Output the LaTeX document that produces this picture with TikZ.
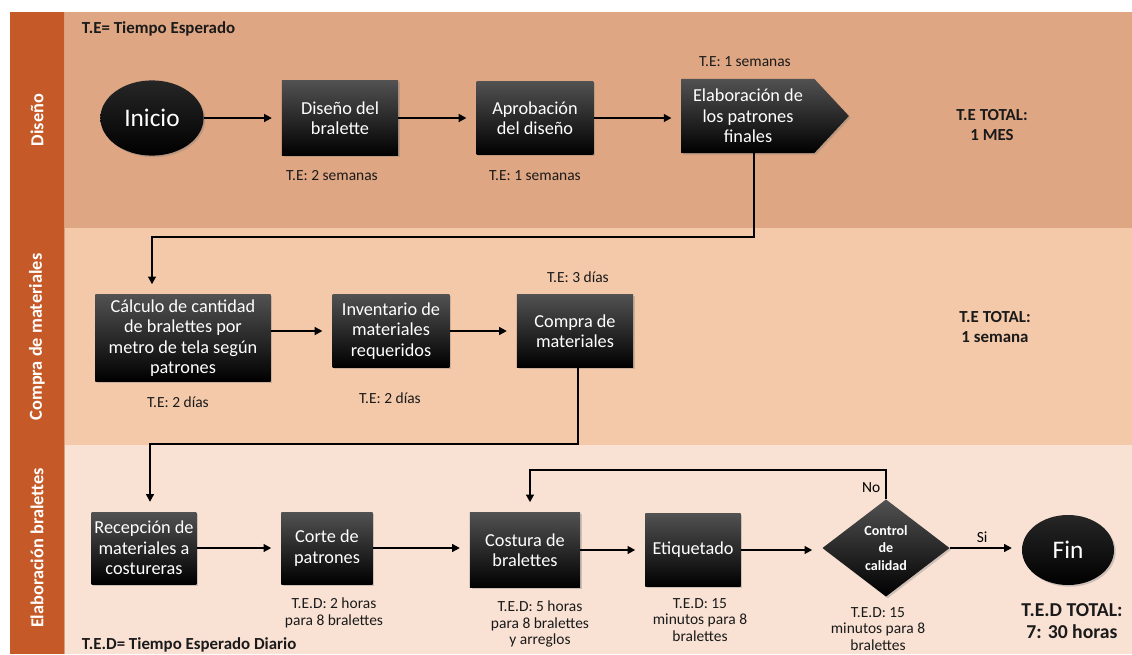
\documentclass[tikz,border=0pt]{standalone}
\usepackage{fontspec}
\setmainfont{Carlito}
\usetikzlibrary{
  shapes.geometric,
  shapes.symbols,
  arrows.meta,
  positioning,
  shadows
}
\definecolor{laneone}{HTML}{DEA683}
\definecolor{lanetwo}{HTML}{F3C9AA}
\definecolor{lanethree}{HTML}{F9E2D4}
\definecolor{stripcolor}{HTML}{C55A28}
\definecolor{darktext}{HTML}{1A1A1A}

\begin{document}
\begin{tikzpicture}[
    x=0.025cm, y=-0.025cm,
    every node/.style={font=\fontsize{11}{12}\selectfont},
    procbox/.style={rectangle, text=white, align=center, inner sep=2pt,
                    top color=black!68, middle color=black, bottom color=black,
                    font=\fontsize{13}{14.5}\selectfont,
                    drop shadow={shadow xshift=1.2pt, shadow yshift=-1.2pt, opacity=0.35}},
    terminal/.style={procbox, ellipse, inner sep=0pt, top color=black!85,
                     font=\fontsize{18}{20}\selectfont},
    decision/.style={procbox, diamond, inner sep=0pt, shape aspect=1.3,
                     font=\fontsize{10}{12.5}\selectfont\bfseries},
    note/.style={align=center, inner sep=1pt, text=darktext},
    total/.style={align=center, text=darktext, font=\fontsize{12}{14}\selectfont\bfseries},
    heading/.style={anchor=west, text=darktext, font=\fontsize{12}{14}\selectfont\bfseries},
    lanelabel/.style={rotate=90, text=white, font=\fontsize{13}{15}\selectfont\bfseries},
    flow/.style={line width=1.4pt, shorten >=7pt, -{Triangle[length=5.5pt, width=5.5pt]}},
]
\useasboundingbox (0,0) rectangle (1132,654);

% Lanes
\fill[laneone]   (10,12)  rectangle (1132,228);
\fill[lanetwo]   (10,228) rectangle (1132,445);
\fill[lanethree] (10,445) rectangle (1132,654);
\fill[stripcolor] (10,12) rectangle (64,654);
\draw[stripcolor!60!white, line width=0.5pt] (64,12) -- (64,654);

\node[lanelabel] (ldiseno) at (37,120) {Diseño};
\node[lanelabel] (lcompra) at (37,337) {Compra de materiales};
\node[lanelabel] (lelab)   at (37,548) {Elaboración bralettes};

\node[heading] (te)  at (77,29)  {T.E= Tiempo Esperado};
\node[heading] (ted) at (77,645) {T.E.D= Tiempo Esperado Diario};

% Diseño
\node[terminal, minimum width=2.58cm, minimum height=1.88cm] (inicio) at (152,118) {Inicio};
\node[procbox, minimum width=2.9cm, minimum height=1.88cm] (diseno) at (340,118) {Diseño del\\bralette};
\node[procbox, minimum width=2.92cm, minimum height=1.83cm] (aprobacion) at (535,118) {Aprobación\\del diseño};
\node[procbox, signal, signal to=east, signal pointer angle=94,
      minimum width=4.18cm, minimum height=1.85cm] (patrones) at (748,116) {Elaboración de\\los patrones\\finales};

\node[note] (tdiseno) at (332,176) {T.E: 2 semanas};
\node[note] (taprob)  at (535,176) {T.E: 1 semanas};
\node[note] (tpatron) at (745,62)  {T.E: 1 semanas};
\node[total] (totdiseno) at (992,125) {T.E TOTAL:\\1 MES};

\draw[flow] (inicio) -- (diseno);
\draw[flow] (diseno) -- (aprobacion);
\draw[flow] (aprobacion) -- (patrones.west |- aprobacion);

% Compra de materiales
\node[procbox, minimum width=4.38cm, minimum height=2.18cm] (calculo) at (183,338) {Cálculo de cantidad\\de bralettes por\\metro de tela según\\patrones};
\node[procbox, minimum width=2.92cm, minimum height=1.83cm] (inventario) at (391,331) {Inventario de\\materiales\\requeridos};
\node[procbox, minimum width=2.9cm, minimum height=1.83cm] (compra) at (575,331) {Compra de\\materiales};

\node[note] (tcalculo) at (178,402) {T.E: 2 días};
\node[note] (tinvent)  at (390,398) {T.E: 2 días};
\node[note] (tcompra)  at (578,277) {T.E: 3 días};
\node[total] (totcompra) at (995,327) {T.E TOTAL:\\1 semana};

\coordinate (k1) at (754,237);
\coordinate (k2) at (152,237);
\draw[flow] (patrones.south -| k1) -- (k1) -- (k2) -- (k2 |- calculo.north);

\draw[flow] (calculo.east |- inventario) -- (inventario);
\draw[flow] (inventario) -- (compra);

% Elaboración bralettes
\node[procbox, minimum width=2.55cm, minimum height=1.8cm] (recepcion) at (144,548) {Recepción de\\materiales a\\costureras};
\node[procbox, minimum width=2.28cm, minimum height=1.8cm] (corte) at (327,548) {Corte de\\patrones};
\node[procbox, minimum width=2.75cm, minimum height=1.88cm] (costura) at (525,550) {Costura de\\bralettes};
\node[procbox, minimum width=2.38cm, minimum height=1.83cm] (etiquetado) at (693,550) {Etiquetado};
\node[decision, minimum width=3.18cm, minimum height=2.43cm] (control) at (886,548) {Control\\de\\calidad};
\node[terminal, minimum width=2.3cm, minimum height=1.75cm] (fin) at (1068,550) {Fin};

\node[note] (tcorte)   at (334,613) {T.E.D: 2 horas\\para 8 bralettes};
\node[note] (tcostura) at (540,624) {T.E.D: 5 horas\\para 8 bralettes\\y arreglos};
\node[note] (tetiq)    at (700,620) {T.E.D: 15\\minutos para 8\\bralettes};
\node[note] (tcontrol) at (878,629) {T.E.D: 15\\minutos para 8\\bralettes};
\node[total, font=\fontsize{14}{16}\selectfont\bfseries] (totelab) at (1072,621) {T.E.D TOTAL:\\7: 30 horas};

\coordinate (k3) at (578,444);
\coordinate (k4) at (150,444);
\draw[flow] (compra.south -| k3) -- (k3) -- (k4) -- (k4 |- recepcion.north);

\draw[flow] (recepcion.east |- corte) -- (corte);
\draw[flow] (corte) -- (corte.east -| costura.west);
\draw[flow] (costura.east |- etiquetado) -- (etiquetado);
\draw[flow] (etiquetado) -- (etiquetado.east -| control.west);
\draw[flow] (control) -- node[above, pos=0.45] {Si} (control.east -| fin.west);

% Retrabajo
\coordinate (k5) at (886,470);
\coordinate (k6) at (530,470);
\draw[flow] (control.north) -- node[left, pos=0.4] {No} (k5) -- (k6) -- (k6 |- costura.north);

\end{tikzpicture}
\end{document}
